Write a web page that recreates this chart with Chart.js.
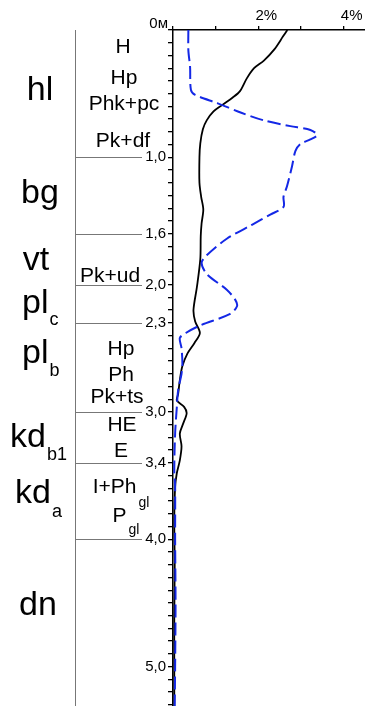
<!DOCTYPE html>
<html>
<head>
<meta charset="utf-8">
<script src="https://cdn.jsdelivr.net/npm/chart.js@4.4.1/dist/chart.umd.min.js"></script>
<style>
  body { margin: 0; background: #fff; }
  #wrap { width: 365px; height: 706px; position: relative; }
</style>
</head>
<body>
<div id="wrap"><canvas id="chart"></canvas></div>
<script>
// глубина, м и содержание, %
const blackDepth = [0.00, 0.05, 0.15, 0.24, 0.30, 0.38, 0.48, 0.53, 0.59, 0.64, 0.71, 0.78, 0.89, 1.00, 1.20, 1.31, 1.41, 1.52, 1.62, 1.80, 2.02, 2.20, 2.29, 2.38, 2.46, 2.54, 2.64, 2.75, 2.86, 2.91, 2.96, 3.01, 3.09, 3.17, 3.27, 3.38, 3.48, 3.59, 3.85, 4.20, 4.60, 5.00, 5.31];
const blackPct   = [2.68, 2.58, 2.38, 2.13, 1.90, 1.73, 1.57, 1.40, 1.15, 0.95, 0.79, 0.70, 0.64, 0.62, 0.62, 0.66, 0.71, 0.67, 0.65, 0.64, 0.56, 0.48, 0.52, 0.63, 0.50, 0.34, 0.22, 0.16, 0.12, 0.09, 0.26, 0.32, 0.24, 0.16, 0.20, 0.16, 0.09, 0.05, 0.03, 0.04, 0.03, 0.03, 0.03];

const blueDepth = [0.00, 0.16, 0.29, 0.47, 0.51, 0.576, 0.65, 0.71, 0.755, 0.785, 0.825, 0.86, 0.895, 0.95, 1.07, 1.23, 1.31, 1.39, 1.45, 1.53, 1.64, 1.77, 1.83, 1.92, 2.04, 2.12, 2.17, 2.23, 2.32, 2.38, 2.42, 2.50, 2.62, 2.70, 2.83, 2.96, 3.17, 3.46, 3.59, 4.00, 4.50, 5.00, 5.31];
const bluePct   = [0.36, 0.36, 0.40, 0.42, 0.52, 1.05, 1.60, 2.13, 2.75, 3.22, 3.38, 3.22, 2.99, 2.87, 2.79, 2.67, 2.59, 2.59, 2.28, 1.85, 1.26, 0.79, 0.67, 0.80, 1.26, 1.46, 1.50, 1.34, 0.64, 0.30, 0.16, 0.20, 0.22, 0.20, 0.12, 0.09, 0.05, 0.03, 0.05, 0.05, 0.06, 0.05, 0.04];

const depthLabels = [1.0, 1.6, 2.0, 2.3, 3.0, 3.4, 4.0, 5.0];
const pctLabels = [2, 4];
const boundaries = [1.0, 1.6, 2.0, 2.3, 3.0, 3.4, 4.0];

// индексы горизонтов
const horizons = [
  { name: 'hl', sub: '', x: 40, y: 100, align: 'center' },
  { name: 'bg', sub: '', x: 40, y: 203, align: 'center' },
  { name: 'vt', sub: '', x: 36, y: 270, align: 'center' },
  { name: 'pl', sub: 'c', x: 22, y: 313, sy: 325, align: 'left' },
  { name: 'pl', sub: 'b', x: 22, y: 363, sy: 376, align: 'left' },
  { name: 'kd', sub: 'b1', x: 10, y: 447, sy: 460, align: 'left' },
  { name: 'kd', sub: 'a', x: 15, y: 503, sy: 517, align: 'left' },
  { name: 'dn', sub: '', x: 38, y: 615, align: 'center' }
];

const subHorizons = [
  { t: 'H', x: 123, y: 53 },
  { t: 'Hp', x: 124, y: 84 },
  { t: 'Phk+pc', x: 124, y: 110 },
  { t: 'Pk+df', x: 123, y: 147 },
  { t: 'Pk+ud', x: 110, y: 282 },
  { t: 'Hp', x: 121, y: 355 },
  { t: 'Ph', x: 121, y: 381 },
  { t: 'Pk+ts', x: 117, y: 403 },
  { t: 'HE', x: 122, y: 431 },
  { t: 'E', x: 121, y: 457 },
  { t: 'I+Ph', sub: 'gl', x: 121, y: 493, sy: 507 },
  { t: 'P', sub: 'gl', x: 126, y: 522, sy: 534 }
];

const FONT = "'Liberation Sans', Arial, sans-serif";

const profilePlugin = {
  id: 'profile',
  beforeDatasetsDraw(chart) {
    const ctx = chart.ctx;
    const yScale = chart.scales.y;
    const top = chart.chartArea.top;
    ctx.save();
    ctx.strokeStyle = '#777';
    ctx.lineWidth = 1;
    ctx.beginPath();
    ctx.moveTo(75.5, top);
    ctx.lineTo(75.5, chart.height);
    boundaries.forEach(d => {
      const py = Math.round(yScale.getPixelForValue(d)) + 0.5;
      ctx.moveTo(75, py);
      ctx.lineTo(142, py);
    });
    ctx.stroke();

    ctx.fillStyle = '#000';
    ctx.textBaseline = 'alphabetic';
    horizons.forEach(h => {
      ctx.font = '34px ' + FONT;
      ctx.textAlign = h.align;
      ctx.fillText(h.name, h.x, h.y);
      if (h.sub) {
        const w = ctx.measureText(h.name).width;
        ctx.font = '18px ' + FONT;
        ctx.textAlign = 'left';
        ctx.fillText(h.sub, h.x + w + 1, h.sy);
      }
    });

    subHorizons.forEach(s => {
      ctx.font = '21px ' + FONT;
      if (s.sub) {
        const w1 = ctx.measureText(s.t).width;
        ctx.font = '14px ' + FONT;
        const w2 = ctx.measureText(s.sub).width;
        const left = s.x - (w1 + w2 + 2) / 2;
        ctx.font = '21px ' + FONT;
        ctx.textAlign = 'left';
        ctx.fillText(s.t, left, s.y);
        ctx.font = '14px ' + FONT;
        ctx.fillText(s.sub, left + w1 + 2, s.sy);
      } else {
        ctx.textAlign = 'center';
        ctx.fillText(s.t, s.x, s.y);
      }
    });

    ctx.font = '15px ' + FONT;
    ctx.textAlign = 'right';
    ctx.fillText('0м', 168, 28);
    ctx.restore();
  }
};

const ctx = document.getElementById('chart').getContext('2d');
new Chart(ctx, {
  type: 'scatter',
  data: {
    datasets: [
      {
        label: 'blue',
        data: blueDepth.map((d, i) => ({ x: bluePct[i], y: d })),
        showLine: true,
        borderColor: '#1428e6',
        borderWidth: 2,
        borderDash: [13, 5],
        pointRadius: 0,
        tension: 0.3,
        fill: false
      },
      {
        label: 'black',
        data: blackDepth.map((d, i) => ({ x: blackPct[i], y: d })),
        showLine: true,
        borderColor: '#000',
        borderWidth: 1.8,
        pointRadius: 0,
        tension: 0.3,
        fill: false
      }
    ]
  },
  options: {
    responsive: true,
    maintainAspectRatio: false,
    animation: false,
    layout: { padding: 0 },
    plugins: { legend: { display: false }, tooltip: { enabled: false } },
    scales: {
      x: {
        type: 'linear',
        position: 'top',
        min: 0,
        max: 4.5,
        afterBuildTicks: s => { s.ticks = s.ticks.filter(t => Number.isInteger(Math.round(t.value * 1000) / 1000) && t.value <= 4); },
        afterFit: s => { s.height = 30; s.paddingLeft = 0; s.paddingRight = 0; },
        ticks: {
          stepSize: 1,
          includeBounds: false,
          autoSkip: false,
          maxRotation: 0,
          color: '#000',
          font: { family: FONT, size: 15 },
          padding: 1,
          labelOffset: 8,
          callback: v => pctLabels.includes(v) ? v + '%' : ''
        },
        grid: { drawOnChartArea: false, drawTicks: true, tickLength: 4, color: '#000', lineWidth: 1.3 },
        border: { display: true, color: '#000', width: 1.5 }
      },
      y: {
        type: 'linear',
        position: 'left',
        reverse: true,
        min: 0,
        max: 5.31,
        afterBuildTicks: s => {
          s.ticks = s.ticks.filter(t => Math.abs(t.value * 10 - Math.round(t.value * 10)) < 1e-6 && t.value <= 5.3 + 1e-6);
        },
        afterFit: s => { s.width = 173; s.paddingTop = 0; s.paddingBottom = 0; },
        ticks: {
          stepSize: 0.1,
          includeBounds: false,
          autoSkip: false,
          color: '#000',
          font: { family: FONT, size: 15 },
          padding: 2,
          callback: v => {
            const r = Math.round(v * 10) / 10;
            return depthLabels.includes(r) ? r.toFixed(1).replace('.', ',') : '';
          }
        },
        grid: { drawOnChartArea: false, drawTicks: true, tickLength: 5, color: '#000', lineWidth: 1.3 },
        border: { display: true, color: '#000', width: 1.5 }
      }
    }
  },
  plugins: [profilePlugin]
});
</script>
</body>
</html>
